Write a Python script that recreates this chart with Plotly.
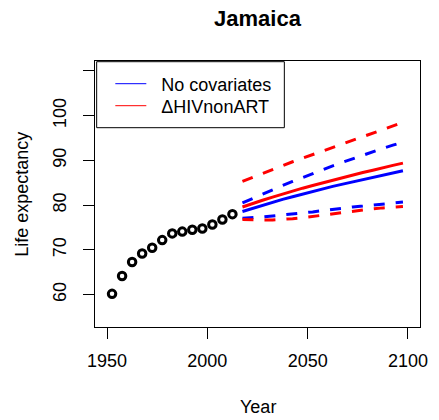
import plotly.graph_objects as go

# ---- data ----
obs_years = [1952.5, 1957.5, 1962.5, 1967.5, 1972.5, 1977.5, 1982.5, 1987.5,
             1992.5, 1997.5, 2002.5, 2007.5, 2012.5]
obs_e0 = [60.2, 64.2, 67.3, 69.2, 70.5, 72.2, 73.7, 74.1, 74.5, 74.8, 75.7, 76.8, 78.0]

proj_years = [2017.5, 2022.5, 2027.5, 2032.5, 2037.5, 2042.5, 2047.5, 2052.5, 2057.5,
              2062.5, 2067.5, 2072.5, 2077.5, 2082.5, 2087.5, 2092.5, 2097.5]

nocov_median = [78.6, 79.3, 80.0, 80.7, 81.3, 81.9, 82.5, 83.1, 83.6,
                84.2, 84.7, 85.2, 85.8, 86.3, 86.8, 87.2, 87.7]
nocov_upper = [80.5, 81.5, 82.5, 83.5, 84.4, 85.3, 86.2, 87.1, 88.0,
               88.8, 89.6, 90.4, 91.2, 92.0, 92.7, 93.4, 94.1]
nocov_lower = [77.1, 77.2, 77.4, 77.6, 77.8, 78.0, 78.3, 78.5, 78.8,
               79.1, 79.4, 79.6, 79.8, 80.0, 80.2, 80.5, 80.7]

hiv_median = [79.6, 80.4, 81.1, 81.8, 82.5, 83.1, 83.8, 84.4, 85.0,
              85.6, 86.2, 86.7, 87.3, 87.8, 88.4, 88.9, 89.4]
hiv_upper = [85.3, 86.2, 87.0, 87.9, 88.8, 89.7, 90.5, 91.3, 92.1,
             92.9, 93.7, 94.5, 95.3, 96.1, 96.9, 97.7, 98.5]
hiv_lower = [76.8, 76.7, 76.7, 76.7, 76.8, 77.0, 77.2, 77.5, 77.8,
             78.0, 78.3, 78.6, 78.9, 79.2, 79.4, 79.6, 79.7]

series_names = ["No covariates", "\u0394HIVnonART"]
series_colors = ["#0000FF", "#FF0000"]

x_ticks = [1950, 2000, 2050, 2100]
y_ticks = [60, 70, 80, 90, 100, 110]
y_ticklabels = ["60", "70", "80", "90", "100", ""]

FONT = "Liberation Sans, Arial, Helvetica, sans-serif"
DASH = "11px,11px"

W, H = 439, 420
ML, MR, MT, MB = 95, 11, 61, 93
PW, PH = W - ML - MR, H - MT - MB


def px_x(px):
    return (px - ML) / PW


def px_y(py):
    return (H - MB - py) / PH


fig = go.Figure()

for name, color, med, up, lo in [
    (series_names[0], series_colors[0], nocov_median, nocov_upper, nocov_lower),
    (series_names[1], series_colors[1], hiv_median, hiv_upper, hiv_lower),
]:
    fig.add_trace(go.Scatter(x=proj_years, y=med, mode="lines", showlegend=False,
                             line=dict(color=color, width=3)))
    fig.add_trace(go.Scatter(x=proj_years, y=up, mode="lines", showlegend=False,
                             line=dict(color=color, width=3, dash=DASH)))
    fig.add_trace(go.Scatter(x=proj_years, y=lo, mode="lines", showlegend=False,
                             line=dict(color=color, width=3, dash=DASH)))

fig.add_trace(go.Scatter(x=obs_years, y=obs_e0, mode="markers", showlegend=False,
                         marker=dict(symbol="circle-open", size=7.5, color="black",
                                     line=dict(width=3, color="black"))))

# legend entries (thin lines, as in the original), one legend per row
NBSP = "\u00a0\u00a0"
for i, (name, color) in enumerate(zip(series_names, series_colors)):
    fig.add_trace(go.Scatter(x=[None], y=[None], mode="lines", name=NBSP + name,
                             legend="legend" if i == 0 else "legend2",
                             line=dict(color=color, width=1)))

leg_common = dict(xanchor="left", yanchor="middle", bgcolor="rgba(0,0,0,0)",
                  borderwidth=0, font=dict(size=18, family=FONT, color="black"),
                  itemwidth=31)

fig.update_layout(
    width=W, height=H,
    margin=dict(l=ML, r=MR, t=MT, b=MB),
    plot_bgcolor="white", paper_bgcolor="white",
    font=dict(family=FONT, size=18, color="black"),
    title=dict(text="<b>Jamaica</b>", x=0.5, xref="paper", xanchor="center",
               y=1 - 18 / H, yanchor="middle", font=dict(size=22, family=FONT)),
    xaxis=dict(range=[1944, 2106], tickvals=x_ticks, ticks="outside", ticklen=11,
               tickwidth=1, tickcolor="black", showgrid=False, zeroline=False,
               showline=True, linecolor="black", linewidth=1, mirror=True,
               ticklabelstandoff=6),
    yaxis=dict(range=[52.8, 112.2], tickvals=y_ticks, ticktext=y_ticklabels,
               tickangle=-90, ticks="outside", ticklen=11, tickwidth=1,
               tickcolor="black", showgrid=False, zeroline=False,
               showline=True, linecolor="black", linewidth=1, mirror=True,
               ticklabelstandoff=10),
    legend=dict(x=px_x(110.7), y=px_y(84), **leg_common),
    legend2=dict(x=px_x(110.7), y=px_y(106), **leg_common),
    shapes=[dict(type="rect", xref="paper", yref="paper", x0=px_x(96.7), x1=px_x(289),
                 y0=px_y(127.7), y1=px_y(61.7), line=dict(color="black", width=1),
                 fillcolor="rgba(0,0,0,0)")],
    annotations=[
        dict(text="Year", xref="paper", yref="paper", x=0.5, y=px_y(406.7),
             xanchor="center", yanchor="middle", showarrow=False,
             font=dict(size=18, family=FONT)),
        dict(text="Life expectancy", xref="paper", yref="paper", x=px_x(20),
             y=0.5, xanchor="center", yanchor="middle", textangle=-90,
             showarrow=False, font=dict(size=18, family=FONT)),
    ],
)

fig.write_html("out.html", config={"displayModeBar": False},
               post_script="document.body.style.margin='0';document.body.style.padding='0';")
